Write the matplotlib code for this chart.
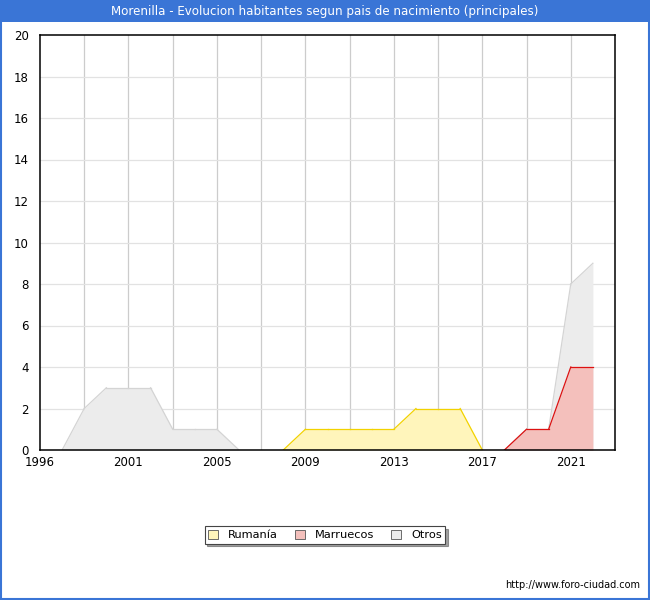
import matplotlib.pyplot as plt
from matplotlib.patches import Rectangle

# Years (categorical positions, 1997 missing)
years = [1996, 1998, 1999, 2000, 2001, 2002, 2003, 2004, 2005, 2006, 2007, 2008, 2009,
         2010, 2011, 2012, 2013, 2014, 2015, 2016, 2017, 2018, 2019, 2020, 2021, 2022]
rumania = [0, 0, 0, 0, 0, 0, 0, 0, 0, 0, 0, 0, 1, 1, 1, 1, 1, 2, 2, 2, 0, 0, 0, 0, 0, 0]
marruecos = [0, 0, 0, 0, 0, 0, 0, 0, 0, 0, 0, 0, 0, 0, 0, 0, 0, 0, 0, 0, 0, 0, 1, 1, 4, 4]
otros = [0, 0, 2, 3, 3, 3, 1, 1, 1, 0, 0, 0, 0, 0, 0, 0, 0, 0, 0, 0, 0, 0, 1, 1, 8, 9]
tick_labels = ["1996", "2001", "2005", "2009", "2013", "2017", "2021"]

x = list(range(len(years)))

fig = plt.figure(figsize=(6.5, 6), dpi=100)
fig.patch.set_facecolor("white")

# blue title bar and frame
fig.patches.append(Rectangle((0, 1 - 22 / 600), 1, 22 / 600, transform=fig.transFigure,
                             facecolor="#3a75d6", edgecolor="none", zorder=0))
fig.patches.append(Rectangle((0.0008, 0.001), 0.9984, 0.998, transform=fig.transFigure,
                             facecolor="none", edgecolor="#3a75d6", linewidth=1.5, zorder=0))
fig.text(0.5, 1 - 11 / 600, "Morenilla - Evolucion habitantes segun pais de nacimiento (principales)",
         ha="center", va="center", color="white", fontsize=8.6)

ax = fig.add_axes([40 / 650, 150 / 600, 575 / 650, 415 / 600])


def plot_series(vals, fill, edge, z):
    ax.fill_between(x, vals, color=fill, linewidth=0, zorder=z)
    # draw the outline only where the series is above zero
    for i in range(len(vals) - 1):
        if vals[i] > 0 or vals[i + 1] > 0:
            ax.plot(x[i:i + 2], vals[i:i + 2], color=edge, linewidth=0.9, zorder=z)


plot_series(otros, "#ececec", "#d4d4d4", 1)
plot_series(marruecos, "#f4c0bc", "#dd1111", 2)
plot_series(rumania, "#fff5bb", "#f2d200", 2)

ax.set_xlim(0, 26)
ax.set_ylim(0, 20)
ax.set_yticks(range(0, 21, 2))
ax.set_xticks([years.index(int(t)) for t in tick_labels])
ax.set_xticklabels(tick_labels)
ax.tick_params(axis="x", length=0, labelsize=8.5, pad=4)
ax.tick_params(axis="y", length=0, labelsize=8.5, pad=8)
ax.grid(False)
for v in range(2, 26, 2):
    ax.axvline(v, color="#cccccc", linewidth=0.9, zorder=0)
for v in range(2, 20, 2):
    ax.axhline(v, color="#e2e2e2", linewidth=0.9, zorder=0)
for s in ax.spines.values():
    s.set_color("black")
    s.set_linewidth(1.1)
    s.set_zorder(5)

handles = [Rectangle((0, 0), 1, 1, facecolor="#fff5bb", edgecolor="#555555", linewidth=0.6),
           Rectangle((0, 0), 1, 1, facecolor="#f4c0bc", edgecolor="#555555", linewidth=0.6),
           Rectangle((0, 0), 1, 1, facecolor="#ececec", edgecolor="#555555", linewidth=0.6)]
leg = fig.legend(handles, ["Rumanía", "Marruecos", "Otros"], loc="center",
                 bbox_to_anchor=(325 / 650, 1 - 535 / 600), ncol=3, fontsize=8.2,
                 frameon=True, fancybox=False, shadow={"color": "#444444"}, handlelength=0.85,
                 handleheight=0.85, borderpad=0.3, columnspacing=1.5, handletextpad=0.9,
                 borderaxespad=0)
leg.get_frame().set_edgecolor("#444444")
leg.get_frame().set_linewidth(0.8)

fig.text(640 / 650, 1 - 585 / 600, "http://www.foro-ciudad.com", ha="right", va="center", fontsize=7)

fig.savefig("out.png", dpi=100)
